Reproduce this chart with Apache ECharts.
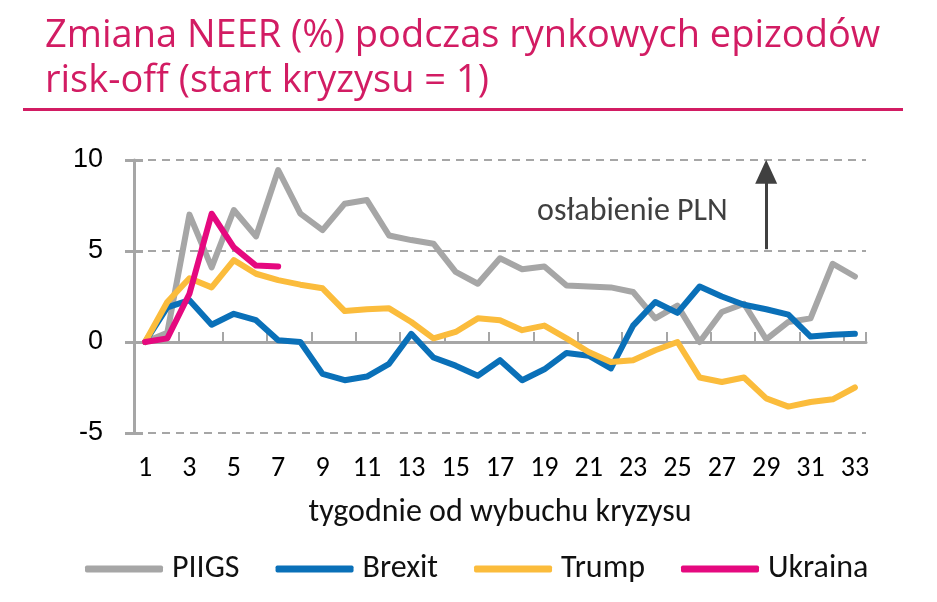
<!DOCTYPE html>
<html>
<head>
<meta charset="utf-8">
<script src="https://cdn.jsdelivr.net/npm/echarts@6/dist/echarts.min.js"></script>
<style>
  html, body { margin: 0; padding: 0; background: #fff; }
  #chart { width: 937px; height: 602px; }
</style>
</head>
<body>
<div id="chart"></div>
<script>
// tygodnie 1..33
var weeks = ['1','2','3','4','5','6','7','8','9','10','11','12','13','14','15','16','17',
  '18','19','20','21','22','23','24','25','26','27','28','29','30','31','32','33'];

var piigs = [0, 0.5, 7.0, 4.1, 7.25, 5.8, 9.45, 7.05, 6.15, 7.6, 7.8, 5.85, 5.6, 5.4, 3.85, 3.2, 4.6,
  4.0, 4.15, 3.1, 3.05, 3.0, 2.75, 1.3, 2.0, 0.0, 1.65, 2.1, 0.15, 1.1, 1.3, 4.3, 3.6];
var brexit = [0, 1.9, 2.3, 0.95, 1.55, 1.2, 0.1, 0.0, -1.75, -2.1, -1.9, -1.2, 0.45, -0.85, -1.3, -1.85, -1.0,
  -2.1, -1.5, -0.6, -0.75, -1.45, 0.9, 2.2, 1.6, 3.05, 2.5, 2.05, 1.8, 1.5, 0.3, 0.4, 0.45];
var trump = [0, 2.2, 3.5, 3.0, 4.5, 3.75, 3.4, 3.15, 2.95, 1.7, 1.8, 1.85, 1.1, 0.2, 0.55, 1.3, 1.2,
  0.65, 0.9, 0.2, -0.55, -1.1, -1.0, -0.45, 0.0, -1.95, -2.2, -1.95, -3.1, -3.55, -3.3, -3.15, -2.5];
var ukraina = [0, 0.2, 2.65, 7.05, 5.2, 4.2, 4.15];

var yTicks = { min: -5, max: 10, interval: 5 };

var chart = echarts.init(document.getElementById('chart'));

var pink = '#d21c63';
var axisGray = '#a6a6a6';
var calibri = 'Carlito, Lato, sans-serif';

function line(name, data, color) {
  return {
    name: name,
    type: 'line',
    data: data,
    showSymbol: false,
    smooth: false,
    lineStyle: { color: color, width: 6, cap: 'round', join: 'round' },
    itemStyle: { color: color },
    xAxisIndex: 0,
    yAxisIndex: 0
  };
}

var series = [
  line('PIIGS', piigs, '#a6a6a6'),
  line('Brexit', brexit, '#0a70b8'),
  line('Trump', trump, '#fbbc3c'),
  line('Ukraina', ukraina, '#e5097f')
];

// strzałka "osłabienie PLN"
series[0].markLine = {
  silent: true,
  symbol: ['none', 'triangle'],
  symbolSize: [22, 24],
  lineStyle: { color: '#404040', width: 3, type: 'solid' },
  label: { show: false },
  data: [[{ coord: ['29', 5.1] }, { coord: ['29', 9.35] }]]
};

var option = {
  animation: false,
  graphic: [
    {
      type: 'text', left: 45, top: 17,
      style: { text: 'Zmiana NEER (%) podczas rynkowych epizodów', fill: pink, font: '38px "Open Sans", sans-serif' }
    },
    {
      type: 'text', left: 45, top: 62,
      style: { text: 'risk-off (start kryzysu = 1)', fill: pink, font: '38px "Open Sans", sans-serif' }
    },
    { type: 'rect', shape: { x: 23, y: 108, width: 880, height: 3 }, style: { fill: pink } },
    {
      type: 'text', left: 537, top: 196,
      style: { text: 'osłabienie PLN', fill: '#404040', font: '32px ' + calibri }
    }
  ],
  legend: {
    bottom: 12,
    left: 80,
    itemWidth: 78,
    itemHeight: 7,
    itemGap: 36,
    icon: 'roundRect',
    textStyle: { fontSize: 32, color: '#111', fontFamily: calibri, padding: [0, 0, 0, 4] },
    data: ['PIIGS', 'Brexit', 'Trump', 'Ukraina']
  },
  grid: { left: 134, right: 71, top: 160, bottom: 169 },
  xAxis: [
    {
      type: 'category',
      data: weeks,
      boundaryGap: true,
      position: 'bottom',
      axisLine: { show: false, onZero: false },
      axisTick: { show: false },
      axisLabel: { interval: 1, margin: 22, fontSize: 28, color: '#000', fontFamily: calibri },
      name: 'tygodnie od wybuchu kryzysu',
      nameLocation: 'middle',
      nameGap: 64,
      nameTextStyle: { fontSize: 32, color: '#111', fontFamily: calibri }
    },
    {
      type: 'category',
      data: weeks,
      boundaryGap: true,
      position: 'bottom',
      axisLine: { show: true, onZero: true, onZeroAxisIndex: 0, lineStyle: { color: axisGray, width: 3 } },
      axisTick: { show: true, inside: true, interval: 1, length: 10, lineStyle: { color: axisGray, width: 2 } },
      axisLabel: { show: false }
    }
  ],
  yAxis: [
    {
      type: 'value',
      min: yTicks.min, max: yTicks.max, interval: yTicks.interval,
      axisLine: { show: true, lineStyle: { color: axisGray, width: 3 } },
      axisTick: { show: true, length: 9, lineStyle: { color: axisGray, width: 3 } },
      axisLabel: { margin: 31, fontSize: 27, color: '#000', fontFamily: 'Liberation Sans, Arial, sans-serif' },
      splitLine: { show: true, lineStyle: { color: axisGray, width: 2, type: [8, 6] } }
    },
    {
      type: 'value',
      min: yTicks.min, max: yTicks.max, interval: yTicks.interval,
      position: 'left',
      axisLine: { show: false },
      axisTick: { show: true, inside: true, length: 9, lineStyle: { color: axisGray, width: 3 } },
      axisLabel: { show: false },
      splitLine: { show: false }
    }
  ],
  series: series
};

chart.setOption(option);
</script>
</body>
</html>
